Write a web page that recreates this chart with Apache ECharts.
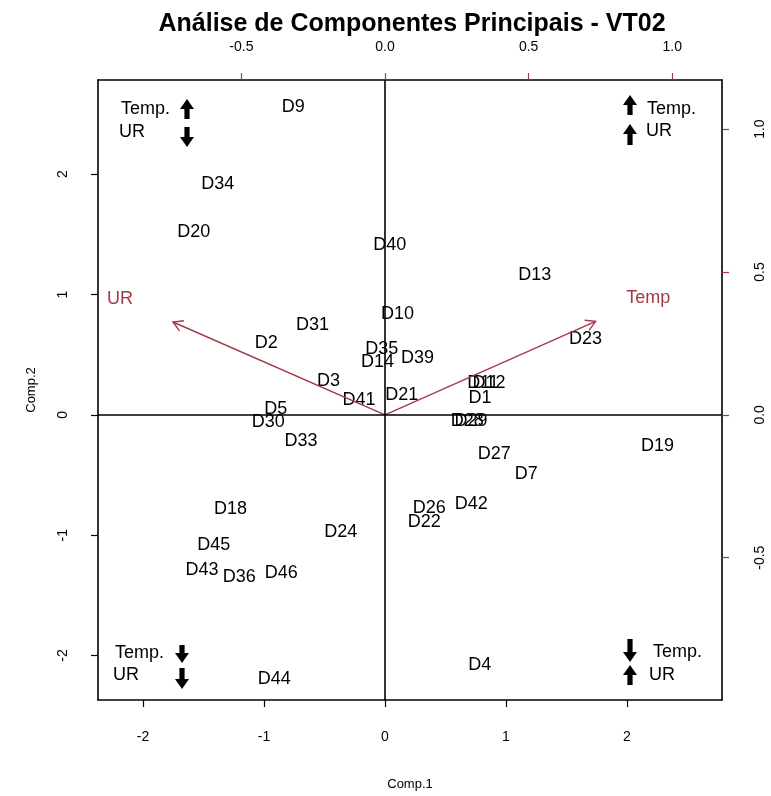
<!DOCTYPE html>
<html><head><meta charset="utf-8">
<script src="https://cdn.jsdelivr.net/npm/echarts@6/dist/echarts.min.js"></script>
<style>html,body{margin:0;padding:0;background:#fff}#c{width:771px;height:796px}</style>
</head><body><div id="c"></div>
<script>
// ---- data (scores on Comp.1 / Comp.2) ----
const obsNames = ['D9','D34','D20','D40','D13','D10','D31','D2','D23','D35','D14','D39','D3','D41','D21','D11','D12','D1','D28','D29','D5','D30','D33','D19','D27','D7','D18','D26','D42','D22','D24','D45','D43','D36','D46','D4','D44'];
const obsComp1 = [-0.758,-1.383,-1.580,0.039,1.237,0.103,-0.599,-0.981,1.657,-0.027,-0.062,0.269,-0.467,-0.215,0.138,0.810,0.860,0.785,0.680,0.710,-0.902,-0.964,-0.694,2.252,0.902,1.167,-1.277,0.365,0.713,0.325,-0.365,-1.415,-1.512,-1.205,-0.857,0.783,-0.915];
const obsComp2 = [2.562,1.915,1.516,1.411,1.163,0.840,0.750,0.593,0.634,0.551,0.436,0.469,0.281,0.124,0.165,0.262,0.262,0.138,-0.055,-0.050,0.050,-0.060,-0.215,-0.261,-0.325,-0.490,-0.785,-0.771,-0.744,-0.887,-0.978,-1.079,-1.289,-1.350,-1.317,-2.079,-2.198];
// ---- loadings (variables) ----
const varNames = ['Temp','UR'];
const varArrowX = [0.733,-0.738];
const varArrowY = [0.327,0.325];
const varLabelX = [0.916,-0.922];
const varLabelY = [0.409,0.406];
// ---- axes ----
const bottomTicks = [-2,-1,0,1,2];
const leftTicks = [-2,-1,0,1,2];
const topTicks = [-0.5,0,0.5,1.0];
const rightTicks = [-0.5,0,0.5,1.0];
const comp1Range = [-2.372,2.785];
const comp2Range = [-2.370,2.783];
const loadXRange = [-0.999,1.173];
const loadYRange = [-0.998,1.172];

const FONT = 'Liberation Sans, Arial, sans-serif';
const RED = '#a23a46';
const chart = echarts.init(document.getElementById('c'));

function axisCommon(ticks, rot, tickColor, fmt, margin){
  return {
    type:'value', splitLine:{show:false},
    axisLine:{show:true, onZero:false, lineStyle:{color:'#000', width:1.6}},
    axisTick:{show:true, customValues:ticks, length:7, lineStyle:{color:tickColor, width:1.2}},
    axisLabel:{customValues:ticks, rotate:rot, margin:margin, color:'#000', fontSize:14, fontFamily:FONT,
      formatter: fmt},
  };
}
const fmt0 = v => String(Math.round(v));
const fmt1 = v => (Math.round(v*10)/10).toFixed(1);

// corner annotations (Temp./UR direction hints)
function arrowPoly(cx, top, bottom, up){
  const h = 10, hw = 7, sw = 2.6;
  let pts;
  if (up) pts = [[cx,top],[cx+hw,top+h],[cx+sw,top+h],[cx+sw,bottom],[cx-sw,bottom],[cx-sw,top+h],[cx-hw,top+h]];
  else pts = [[cx,bottom],[cx+hw,bottom-h],[cx+sw,bottom-h],[cx+sw,top],[cx-sw,top],[cx-sw,bottom-h],[cx-hw,bottom-h]];
  return {type:'polygon', shape:{points:pts}, style:{fill:'#000'}, silent:true};
}
function txt(x,y,s){
  return {type:'text', x:x, y:y, style:{text:s, font:'18px '+FONT, fill:'#000', textAlign:'left', textVerticalAlign:'middle'}, silent:true};
}
const graphics = [
  txt(121,109,'Temp.'), arrowPoly(187,99,119,true), txt(119,132,'UR'), arrowPoly(187,127,147,false),
  arrowPoly(630,95,115,true), txt(647,109,'Temp.'), arrowPoly(630,124,145,true), txt(646,131,'UR'),
  txt(115,653,'Temp.'), arrowPoly(182,645,663,false), txt(113,675,'UR'), arrowPoly(182,668,689,false),
  arrowPoly(630,639,662,false), txt(653,652,'Temp.'), arrowPoly(630,665,685,true), txt(649,675,'UR')
];

const option = {
  animation:false,
  backgroundColor:'#fff',
  title:{text:'Análise de Componentes Principais - VT02', left:407, top:7, textAlign:'center',
    textStyle:{fontFamily:FONT, fontWeight:'bold', fontSize:25, color:'#000'}},
  grid:{left:98, top:80, width:624, height:624},
  xAxis:[
    Object.assign(axisCommon(bottomTicks,0,'#000',fmt0,30),{position:'bottom', min:comp1Range[0], max:comp1Range[1],
      name:'Comp.1', nameLocation:'middle', nameGap:78, nameTextStyle:{fontFamily:FONT,fontSize:13,color:'#000'}}),
    Object.assign(axisCommon(topTicks,0,RED,fmt1,26),{position:'top', min:loadXRange[0], max:loadXRange[1]})
  ],
  yAxis:[
    Object.assign(axisCommon(leftTicks,90,'#000',fmt0,28),{position:'left', min:comp2Range[0], max:comp2Range[1],
      name:'Comp.2', nameLocation:'middle', nameGap:60, nameRotate:90, nameTextStyle:{fontFamily:FONT,fontSize:13,color:'#000'}}),
    Object.assign(axisCommon(rightTicks,90,RED,fmt1,31),{position:'right', min:loadYRange[0], max:loadYRange[1]})
  ],
  series:[
    {
      type:'scatter', xAxisIndex:0, yAxisIndex:0, symbolSize:1, itemStyle:{color:'rgba(0,0,0,0)', opacity:1},
      data: obsNames.map((n,i)=>[obsComp1[i], obsComp2[i], n]),
      label:{show:true, position:'inside', formatter:p=>p.data[2], fontFamily:FONT, fontSize:18, color:'#000'},
      labelLayout:{hideOverlap:false},
      emphasis:{disabled:true},
      markLine:{silent:true, symbol:['none','none'], label:{show:false},
        lineStyle:{color:'#000', type:'solid', width:1.6},
        data:[{xAxis:0},{yAxis:0}]},
      z:3
    },
    {
      type:'custom', xAxisIndex:1, yAxisIndex:1,
      data: varNames.map((n,i)=>[varArrowX[i], varArrowY[i]]),
      renderItem:function(params, api){
        const o = api.coord([0,0]);
        const t = api.coord([api.value(0), api.value(1)]);
        const ang = Math.atan2(t[1]-o[1], t[0]-o[0]);
        const L = 11, a = Math.PI/6;
        const p1 = [t[0]-L*Math.cos(ang-a), t[1]-L*Math.sin(ang-a)];
        const p2 = [t[0]-L*Math.cos(ang+a), t[1]-L*Math.sin(ang+a)];
        return {type:'group', children:[
          {type:'line', shape:{x1:o[0],y1:o[1],x2:t[0],y2:t[1]}, style:{stroke:RED, lineWidth:1.4}},
          {type:'polyline', shape:{points:[p1,t,p2]}, style:{stroke:RED, fill:null, lineWidth:1.4}}
        ]};
      },
      z:4
    },
    {
      type:'scatter', xAxisIndex:1, yAxisIndex:1, symbolSize:1, itemStyle:{color:'rgba(0,0,0,0)', opacity:1},
      data: varNames.map((n,i)=>[varLabelX[i], varLabelY[i], n]),
      label:{show:true, position:'inside', formatter:p=>p.data[2], fontFamily:FONT, fontSize:18, color:RED},
      emphasis:{disabled:true},
      z:4
    }
  ],
  graphic: graphics
};
chart.setOption(option);
</script></body></html>
